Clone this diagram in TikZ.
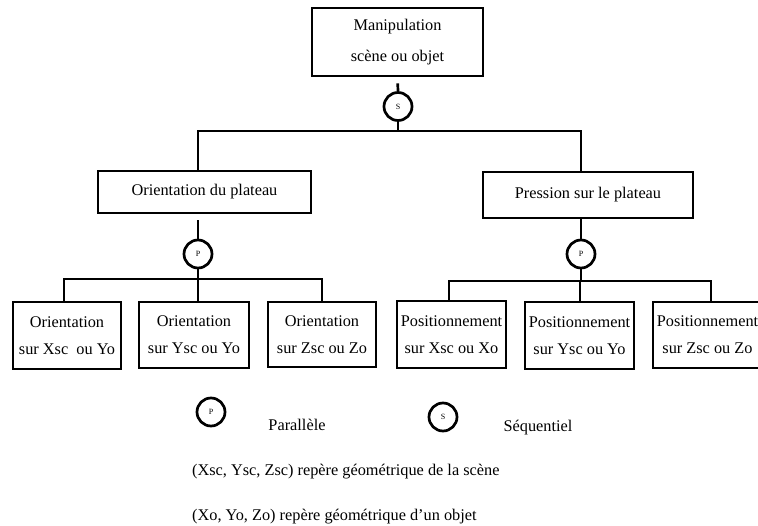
\documentclass[tikz,border=0pt]{standalone}
\usepackage{fontspec}
\setmainfont{Liberation Serif}
\begin{document}
\begin{tikzpicture}[x=1pt,y=-1pt,
  ln/.style={line width=2.7pt},
  box/.style={draw,line width=2.7pt,inner sep=0pt,align=center,font=\fontsize{16.3}{27}\selectfont},
  op/.style={draw,circle,line width=2.7pt,minimum size=28pt,inner sep=0pt,font=\fontsize{8}{9}\selectfont},
  txt/.style={inner sep=0pt,font=\fontsize{16.3}{19}\selectfont}]
\useasboundingbox (0,0) rectangle (758,525);
% boxes
\node[box,minimum width=171pt,minimum height=68pt,font=\fontsize{16.3}{31}\selectfont] (top) at (397.5,42) {Manipulation\\scène ou objet};
\node[op] (S) at (398,106.5) {S};
\node[box,minimum width=213pt,minimum height=42pt] (m1) at (204.5,192) {Orientation du plateau};
\node[box,minimum width=210pt,minimum height=46pt] (m2) at (588,195) {Pression sur le plateau};
\node[op] (P1) at (198,254) {P};
\node[op] (P2) at (581,254) {P};
\node[box,minimum width=108pt,minimum height=67pt] (b1) at (67,335.5) {Orientation\\sur Xsc~ ou Yo};
\node[box,minimum width=110pt,minimum height=66pt] (b2) at (194,335) {Orientation\\sur Ysc ou Yo};
\node[box,minimum width=108pt,minimum height=65pt] (b3) at (322,334.5) {Orientation\\sur Zsc ou Zo};
\node[box,minimum width=109pt,minimum height=67pt] (b4) at (451.5,334.5) {Positionnement\\sur Xsc ou Xo};
\node[box,minimum width=109pt,minimum height=67pt] (b5) at (579.5,335.5) {Positionnement\\sur Ysc ou Yo};
\node[box,minimum width=109pt,minimum height=66pt] (b6) at (707.5,335) {Positionnement\\sur Zsc ou Zo};
% junction coordinates
\coordinate (j1) at (398,131);
\coordinate (a1) at (198,131);
\coordinate (a2) at (581,131);
\coordinate (k1) at (198,279);
\coordinate (l1) at (64,279);
\coordinate (r1) at (322,279);
\coordinate (k2) at (580,281);
\coordinate (l2) at (449,281);
\coordinate (r2) at (711,281);
% connectors top level
\draw[ln,shorten <=6pt] (top.south) -- (S.north);
\draw[ln] (S.south) -- (j1);
\draw[ln] (m1.north -| a1) -- (a1) -- (a2) -- (m2.north -| a2);
% left subtree
\draw[ln,shorten <=6pt] (m1.south -| P1) -- (P1.north);
\draw[ln] (P1.south) -- (k1);
\draw[ln] (b1.north -| l1) -- (l1) -- (r1) -- (b3.north -| r1);
\draw[ln] (k1) -- (b2.north -| k1);
% right subtree
\draw[ln] (m2.south -| P2) -- (P2.north);
\draw[ln] (P2.south) -- (P2.south |- k2);
\draw[ln] (b4.north -| l2) -- (l2) -- (r2) -- (b6.north -| r2);
\draw[ln] (k2) -- (b5.north -| k2);
% legend
\node[op] (LP) at (211,412) {P};
\node[txt] (LPt) at (297,425) {Parallèle};
\node[op] (LS) at (443,417) {S};
\node[txt] (LSt) at (538,428) {Séquentiel};
\node[txt,anchor=west] (n1) at (192,472) {(Xsc, Ysc, Zsc) repère géométrique de la scène};
\node[txt,anchor=west] (n2) at (192,517) {(Xo, Yo, Zo) repère géométrique d’un objet};
\end{tikzpicture}
\end{document}
